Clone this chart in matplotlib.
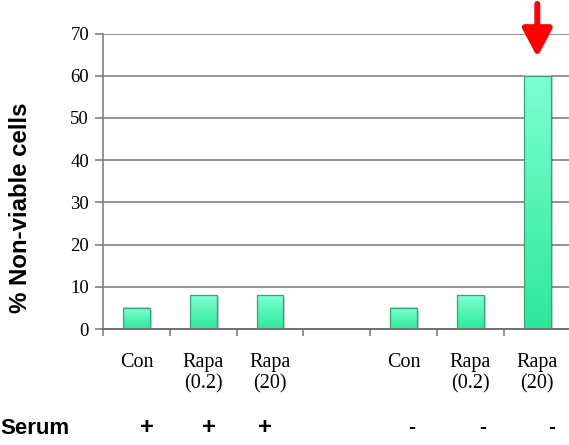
import numpy as np
import matplotlib.pyplot as plt
from matplotlib.colors import LinearSegmentedColormap

# Cell death per treatment, with and without serum
groups = ["Con", "Rapa\n(0.2)", "Rapa\n(20)", "", "Con", "Rapa\n(0.2)", "Rapa\n(20)"]
values = [5, 8, 8, np.nan, 5, 8, 60]
serum = ["+", "+", "+", "", "-", "-", "-"]
serum_shift = [0.16, 0.09, -0.08, 0, 0.12, 0.18, 0.21]
yticks = [0, 10, 20, 30, 40, 50, 60, 70]

fig = plt.figure(figsize=(5.69, 4.45), dpi=100)
ax = fig.add_axes([103 / 569, 1 - 329 / 445, 467.7 / 569, 295.5 / 445])

x = np.arange(len(groups))
keep = ~np.isnan(values)
xs = x[keep]
vs = np.array(values)[keep]

# soft drop shadow behind the bars
ax.bar(xs + 0.03, vs, width=0.4, bottom=-0.4, color="#000000", alpha=0.18,
       linewidth=0, zorder=1.5)
bars = ax.bar(xs, vs, width=0.4, color="none",
              edgecolor="#3aa37a", linewidth=0.9, zorder=3)

# vertical gradient inside each bar, light on top, deeper green at the base
grad = LinearSegmentedColormap.from_list("bar", ["#2de89a", "#7dffd4"])
ramp = np.linspace(0, 1, 256).reshape(-1, 1)
for b in bars:
    x0, w, h = b.get_x(), b.get_width(), b.get_height()
    ax.imshow(ramp, cmap=grad, origin="lower", aspect="auto",
              extent=[x0, x0 + w, 0, h], zorder=2)

ax.set_xlim(-0.5, len(groups) - 0.5)
ax.set_ylim(0, 70)
ax.set_yticks(yticks)
ax.set_yticklabels([str(t) for t in yticks], fontfamily="Liberation Serif",
                   fontsize=13.5)
ax.yaxis.grid(True, color="#808080", linewidth=1.2, zorder=0)
ax.set_axisbelow(True)

ax.set_xticks(np.arange(len(groups) + 1) - 0.5)
ax.set_xticklabels([])
ax.tick_params(axis="x", length=5, color="#808080", width=1.2)
ax.tick_params(axis="y", length=6, color="#808080", width=1.2, pad=4)

for s in ["top", "right"]:
    ax.spines[s].set_visible(False)
ax.spines["left"].set_color("#808080")
ax.spines["left"].set_linewidth(1.2)
ax.spines["bottom"].set_color("#707070")
ax.spines["bottom"].set_linewidth(1.4)
ax.spines["bottom"].set_zorder(4)

# group labels under each bar
for xi, g in zip(x, groups):
    ax.text(xi, -5.8, g, ha="center", va="top", fontfamily="Liberation Serif",
            fontsize=14.5, linespacing=1.1)

# serum row
fig.text(0, 1 - 428 / 445, "Serum", ha="left", va="center",
         fontfamily="Liberation Sans", fontweight="bold", fontsize=16)
for xi, s, dx in zip(x, serum, serum_shift):
    ax.text(xi + dx, -23.3, s, ha="center", va="center",
            fontfamily="Liberation Sans", fontweight="bold",
            fontsize=17 if s == "+" else 15)

ax.set_ylabel("% Non-viable cells", fontfamily="Liberation Sans",
              fontweight="bold", fontsize=17.3)
ax.yaxis.set_label_coords(-0.152, 0.41)

ax.annotate("", xy=(6, 64.4), xytext=(6, 77.0), annotation_clip=False,
            arrowprops=dict(arrowstyle="-|>,head_length=0.85,head_width=0.45",
                            mutation_scale=20, color="#ff0000", lw=4.3,
                            shrinkA=0, shrinkB=0))

fig.savefig("out.png", dpi=100)
